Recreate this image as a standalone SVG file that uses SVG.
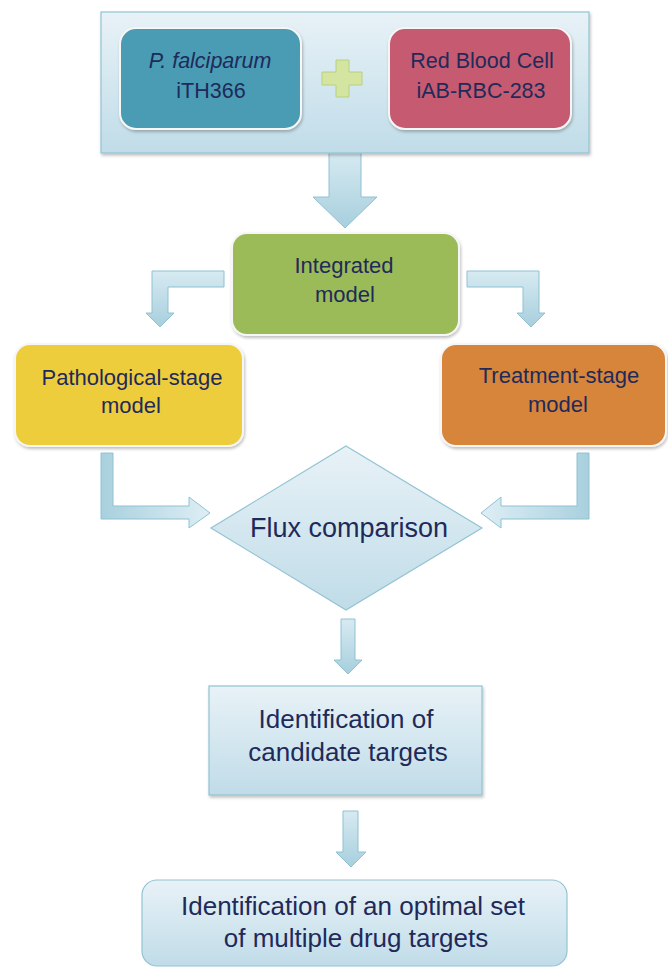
<svg xmlns="http://www.w3.org/2000/svg" width="668" height="968" viewBox="0 0 668 968">
  <defs>
    <linearGradient id="paleBlue" x1="0" y1="0" x2="0" y2="1">
      <stop offset="0" stop-color="#e8f2f7"/>
      <stop offset="1" stop-color="#c0dce8"/>
    </linearGradient>
    <linearGradient id="arrowFill" x1="0" y1="0" x2="0" y2="1">
      <stop offset="0" stop-color="#d7eaf2"/>
      <stop offset="1" stop-color="#a7cfdd"/>
    </linearGradient>
    <linearGradient id="arrowFillH" x1="0" y1="0" x2="1" y2="0">
      <stop offset="0" stop-color="#a9d0de"/>
      <stop offset="1" stop-color="#deeef5"/>
    </linearGradient>
    <linearGradient id="arrowFillHR" x1="1" y1="0" x2="0" y2="0">
      <stop offset="0" stop-color="#a9d0de"/>
      <stop offset="1" stop-color="#deeef5"/>
    </linearGradient>
    <filter id="shadow" x="-10%" y="-10%" width="125%" height="130%">
      <feDropShadow dx="1" dy="2" stdDeviation="1.5" flood-color="#000" flood-opacity="0.25"/>
    </filter>
  </defs>
  <style>
    text { font-family: "Liberation Sans", Arial, sans-serif; fill: #1f2a5a; text-anchor: middle; }
    .t21 { font-size: 21.5px; }
    .t22 { font-size: 22px; }
    .t26 { font-size: 26px; }
    .t27 { font-size: 27px; }
    .solid { stroke: #f6f6f6; stroke-width: 2; filter: url(#shadow); }
    .pale { fill: url(#paleBlue); stroke: #92c3d3; stroke-width: 1.2; }
    .arrow { stroke: #8fc1d2; stroke-width: 1; stroke-linejoin: miter; }
  </style>

  <!-- connectors -->
  <g id="connectors">
    <path class="arrow" fill="url(#arrowFill)" d="M329,152 H361 V197 H377 L345,228 L313,197 H329 Z"/>
    <path class="arrow" fill="url(#arrowFill)" d="M224,271 H152 V313 H146 L160,327 L174,313 H168 V287 H224 Z"/>
    <path class="arrow" fill="url(#arrowFill)" d="M467,271 H539 V313 H545 L531,327 L517,313 H523 V287 H467 Z"/>
    <path class="arrow" fill="url(#arrowFillH)" d="M101,453 H113 V506 H189 V497 L210,513 L189,528 V519 H101 Z"/>
    <path class="arrow" fill="url(#arrowFillHR)" d="M589,453 H577 V506 H501 V497 L481,513 L501,528 V519 H589 Z"/>
    <path class="arrow" fill="url(#arrowFill)" d="M341,619 H355 V660 H362 L348,674 L334,660 H341 Z"/>
    <path class="arrow" fill="url(#arrowFill)" d="M343,811 H358 V852 H366 L351,867 L336,852 H343 Z"/>
  </g>

  <!-- source models container -->
  <g id="sources">
    <rect class="pale" x="101" y="12" width="488" height="141" filter="url(#shadow)"/>
  </g>

  <g id="parasite">
    <rect class="solid" x="120" y="28" width="181" height="101" rx="16" fill="#4a9cb4"/>
    <text class="t21" x="210" y="68" font-style="italic">P. falciparum</text>
    <text class="t21" x="211" y="98">iTH366</text>
  </g>

  <g id="plus">
    <path d="M336,60 H349 V72 H362 V85 H349 V97 H336 V85 H322 V72 H336 Z" fill="#d3e5a0" stroke="#b9d07e" stroke-width="1"/>
  </g>

  <g id="rbc">
    <rect class="solid" x="389" y="28" width="182" height="101" rx="16" fill="#c55a6f"/>
    <text class="t21" x="482" y="68">Red Blood Cell</text>
    <text class="t21" x="481" y="98">iAB-RBC-283</text>
  </g>

  <g id="integrated">
    <rect class="solid" x="232" y="233" width="227" height="102" rx="15" fill="#9bbb59"/>
    <text class="t22" x="344" y="273">Integrated</text>
    <text class="t22" x="345" y="302">model</text>
  </g>

  <g id="pathological">
    <rect class="solid" x="15" y="344" width="228" height="102" rx="15" fill="#eecd3d"/>
    <text class="t22" x="132" y="385">Pathological-stage</text>
    <text class="t22" x="131" y="413">model</text>
  </g>

  <g id="treatment">
    <rect class="solid" x="441" y="344" width="225" height="102" rx="15" fill="#d6853b"/>
    <text class="t22" x="559" y="383">Treatment-stage</text>
    <text class="t22" x="558" y="412">model</text>
  </g>

  <g id="flux">
    <polygon class="pale" points="346,446 482,528 346,610 211,528"/>
    <text class="t27" x="349" y="537">Flux comparison</text>
  </g>

  <g id="candidates">
    <rect class="pale" x="209" y="686" width="273" height="109" filter="url(#shadow)"/>
    <text class="t26" x="346" y="728">Identification of</text>
    <text class="t26" x="348" y="761">candidate targets</text>
  </g>

  <g id="optimal">
    <rect class="pale" x="142" y="880" width="425" height="86" rx="15"/>
    <text class="t26" x="353" y="915">Identification of an optimal set</text>
    <text class="t26" x="356" y="947">of multiple drug targets</text>
  </g>
</svg>
